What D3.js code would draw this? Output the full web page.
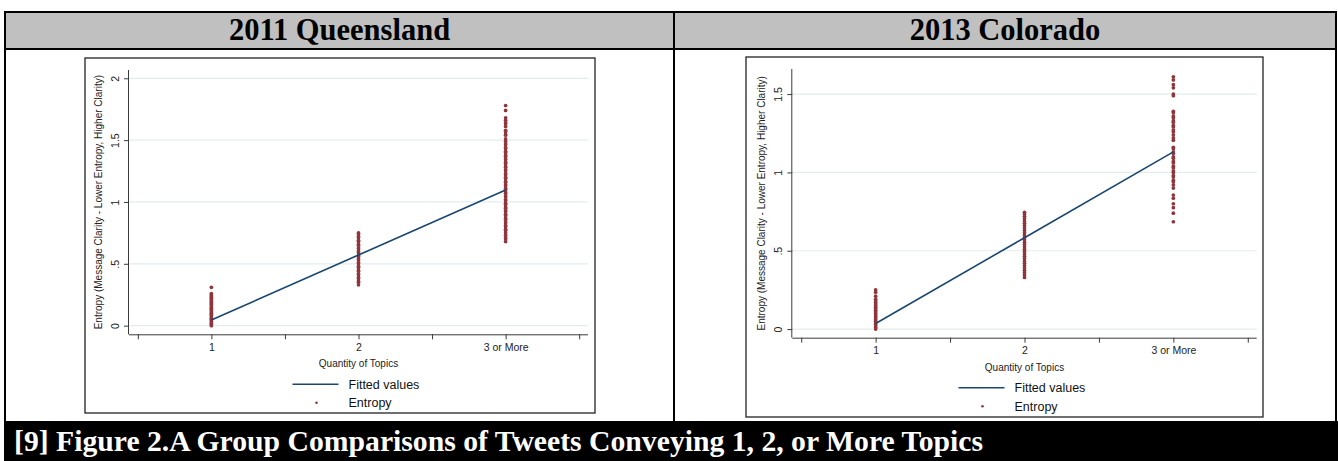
<!DOCTYPE html>
<html>
<head>
<meta charset="utf-8">
<script src="https://cdn.jsdelivr.net/npm/d3@7"></script>
<style>
  html, body { margin: 0; padding: 0; background: #fff; }
  svg { display: block; }
</style>
</head>
<body>
<svg id="fig" width="1338" height="461"></svg>
<script>
// Categories on the x axis (1, 2, 3 or more topics)
const categories = [1, 2, 3];
const xTickValues = [0.5, 1, 1.5, 2, 2.5, 3, 3.5];
const xTickLabels = { 1: "1", 2: "2", 3: "3 or More" };

// 2011 Queensland: entropy per tweet, grouped by topic count
const qldEntropy1 = [0.00, 0.01, 0.02, 0.03, 0.04, 0.05, 0.06, 0.07, 0.08, 0.09, 0.10, 0.11, 0.12, 0.13,
  0.14, 0.15, 0.16, 0.17, 0.18, 0.19, 0.20, 0.21, 0.22, 0.23, 0.24, 0.25, 0.26, 0.31];
const qldEntropy2 = [0.33, 0.35, 0.36, 0.38, 0.39, 0.41, 0.42, 0.44, 0.45, 0.47, 0.48, 0.50, 0.51, 0.53,
  0.54, 0.56, 0.57, 0.59, 0.60, 0.62, 0.63, 0.65, 0.66, 0.68, 0.69, 0.71, 0.72, 0.74, 0.75];
const qldEntropy3 = [1.78, 1.74, 1.68, 1.66, 1.64, 1.63, 1.61, 1.58, 1.57, 1.55, 1.54, 1.51, 1.49, 1.47,
  1.46, 1.44, 1.43, 1.41, 1.40, 1.38, 1.37, 1.35, 1.34, 1.32, 1.31, 1.29, 1.28, 1.26, 1.25, 1.23, 1.22,
  1.20, 1.19, 1.17, 1.16, 1.14, 1.13, 1.11, 1.10, 1.08, 1.07, 1.05, 1.04, 1.02, 1.01, 0.99, 0.98, 0.96,
  0.95, 0.93, 0.92, 0.90, 0.89, 0.87, 0.86, 0.84, 0.83, 0.81, 0.80, 0.78, 0.77, 0.75, 0.73, 0.71, 0.70, 0.68];
const qldFitted = [0.046, 0.571, 1.096];
const qldYTicks = [0, 0.5, 1, 1.5, 2];

// 2013 Colorado: entropy per tweet, grouped by topic count
const colEntropy1 = [0.00, 0.01, 0.02, 0.03, 0.04, 0.05, 0.06, 0.07, 0.08, 0.09, 0.10, 0.11, 0.12, 0.13,
  0.14, 0.15, 0.16, 0.17, 0.18, 0.19, 0.21, 0.235, 0.25];
const colEntropy2 = [0.33, 0.345, 0.36, 0.375, 0.39, 0.405, 0.42, 0.435, 0.45, 0.465, 0.48, 0.495, 0.51,
  0.525, 0.54, 0.555, 0.57, 0.585, 0.60, 0.615, 0.63, 0.645, 0.66, 0.675, 0.69, 0.705, 0.72, 0.735, 0.745];
const colEntropy3 = [1.61, 1.59, 1.56, 1.54, 1.50, 1.49, 1.39, 1.38, 1.36, 1.35, 1.33, 1.32, 1.30, 1.29,
  1.27, 1.26, 1.24, 1.22, 1.205, 1.16, 1.15, 1.13, 1.12, 1.10, 1.09, 1.07, 1.06, 1.04, 1.03, 1.01, 1.00,
  0.98, 0.97, 0.95, 0.94, 0.92, 0.90, 0.855, 0.835, 0.80, 0.775, 0.74, 0.685];
const colFitted = [0.036, 0.583, 1.131];
const colYTicks = [0, 0.5, 1, 1.5];

const titles = ["2011 Queensland", "2013 Colorado"];
const caption = "[9] Figure 2.A Group Comparisons of Tweets Conveying 1, 2, or More Topics";
const xTitle = "Quantity of Topics";
const yTitle = "Entropy (Message Clarity - Lower Entropy, Higher Clarity)";
const legendLabels = ["Fitted values", "Entropy"];

const NAVY = "#1a476f";
const MAROON = "#90353b";
const GRID = "#e2ecee";
const AXIS = "#3a3a3a";
const SANS = "'Liberation Sans', Arial, Helvetica, sans-serif";
const SERIF = "'Liberation Serif', 'Times New Roman', Times, serif";

const svg = d3.select("#fig");
svg.append("rect").attr("width", 1338).attr("height", 461).attr("fill", "#fff");

// ---- table frame: header cells, borders and caption band ----
const cells = [{ x0: 5, x1: 674 }, { x0: 674, x1: 1336 }];
cells.forEach((c, i) => {
  svg.append("rect")
    .attr("x", c.x0).attr("y", 12).attr("width", c.x1 - c.x0).attr("height", 37)
    .attr("fill", "#c0c0c0").attr("stroke", "#000").attr("stroke-width", 2);
  svg.append("text")
    .attr("x", (c.x0 + c.x1) / 2).attr("y", 40)
    .attr("text-anchor", "middle")
    .attr("font-family", SERIF).attr("font-weight", "bold").attr("font-size", 30.5)
    .attr("fill", "#000")
    .text(titles[i]);
});
[5, 674, 1336].forEach(x => {
  svg.append("line").attr("x1", x).attr("x2", x).attr("y1", 12).attr("y2", 422)
    .attr("stroke", "#000").attr("stroke-width", 2);
});
svg.append("rect").attr("x", 4).attr("y", 421).attr("width", 1334).attr("height", 40).attr("fill", "#000");
svg.append("text")
  .attr("x", 14).attr("y", 451)
  .attr("font-family", SERIF).attr("font-weight", "bold").attr("font-size", 29.7)
  .attr("fill", "#fff")
  .text(caption);

// ---- one Stata-style scatter + fitted line panel ----
function panel(opt) {
  const g = svg.append("g");
  // image box
  g.append("rect")
    .attr("x", opt.box[0]).attr("y", opt.box[1]).attr("width", opt.box[2]).attr("height", opt.box[3])
    .attr("fill", "#fff").attr("stroke", "#222").attr("stroke-width", 1.3);

  const x = d3.scaleLinear().domain([0.44, 3.56]).range(opt.xRange);
  const y = d3.scaleLinear().domain(opt.yDomain).range(opt.yRange);
  const axisY = opt.yRange[0];
  const axisX = opt.xRange[0];

  // gridlines
  g.selectAll(".grid").data(opt.yTicks).join("line")
    .attr("x1", axisX).attr("x2", opt.xRange[1])
    .attr("y1", d => y(d)).attr("y2", d => y(d))
    .attr("stroke", GRID).attr("stroke-width", 1.2);

  // y axis
  const yAxis = d3.axisLeft(y).tickValues(opt.yTicks).tickSize(5).tickPadding(4)
    .tickFormat(d => d === 0 ? "0" : (d < 1 ? d3.format(".1f")(d).replace(/^0/, "") : String(d)));
  const ya = g.append("g").attr("transform", `translate(${axisX},0)`).call(yAxis);
  ya.select(".domain").attr("stroke", AXIS).attr("d", `M-0.5,${opt.yRange[1]}V${axisY}`);
  ya.selectAll(".tick line").attr("stroke", AXIS);
  ya.selectAll(".tick text")
    .attr("font-family", SANS).attr("font-size", 10.5).attr("fill", "#222")
    .attr("transform", "rotate(-90)")
    .attr("x", 0).attr("y", -10)
    .attr("dy", "0")
    .attr("text-anchor", "middle");

  // x axis
  const xAxis = d3.axisBottom(x).tickValues(xTickValues).tickSize(5).tickPadding(4)
    .tickFormat(d => xTickLabels[d] || "");
  const xa = g.append("g").attr("transform", `translate(0,${axisY})`).call(xAxis);
  xa.select(".domain").attr("stroke", AXIS).attr("d", `M${axisX},0.5H${opt.xRange[1]}`);
  xa.selectAll(".tick line").attr("stroke", AXIS);
  xa.selectAll(".tick text")
    .attr("font-family", SANS).attr("font-size", 10.5).attr("fill", "#222");

  // axis titles
  const midX = (opt.xRange[0] + opt.xRange[1]) / 2;
  const midY = (opt.yRange[0] + opt.yRange[1]) / 2;
  g.append("text")
    .attr("transform", `translate(${axisX - 27},${midY}) rotate(-90)`)
    .attr("text-anchor", "middle")
    .attr("font-family", SANS).attr("font-size", 10).attr("fill", "#222")
    .text(yTitle);
  g.append("text")
    .attr("x", midX).attr("y", axisY + 33)
    .attr("text-anchor", "middle")
    .attr("font-family", SANS).attr("font-size", 10).attr("fill", "#222")
    .text(xTitle);

  // entropy points
  const pts = [];
  opt.entropy.forEach((arr, i) => arr.forEach(v => pts.push({ c: categories[i], v })));
  g.selectAll(".pt").data(pts).join("circle")
    .attr("cx", d => x(d.c)).attr("cy", d => y(d.v)).attr("r", 1.85)
    .attr("fill", MAROON);

  // fitted line
  const line = d3.line().x((d, i) => x(categories[i])).y(d => y(d));
  g.append("path").attr("d", line(opt.fitted))
    .attr("fill", "none").attr("stroke", NAVY).attr("stroke-width", 1.6);

  // legend
  const ly1 = axisY + 50, ly2 = axisY + 68.5;
  g.append("line").attr("x1", midX - 66).attr("x2", midX - 20).attr("y1", ly1).attr("y2", ly1)
    .attr("stroke", NAVY).attr("stroke-width", 1.6);
  g.append("circle").attr("cx", midX - 42).attr("cy", ly2).attr("r", 1.3).attr("fill", MAROON);
  [ly1, ly2].forEach((ly, i) => {
    g.append("text").attr("x", midX - 10).attr("y", ly).attr("dy", "0.35em")
      .attr("font-family", SANS).attr("font-size", 12.5).attr("fill", "#111")
      .text(legendLabels[i]);
  });
}

panel({
  box: [85, 58, 510, 355],
  xRange: [129, 588],
  yDomain: [-0.07, 2.067],
  yRange: [334.3, 70],
  yTicks: qldYTicks,
  entropy: [qldEntropy1, qldEntropy2, qldEntropy3],
  fitted: qldFitted
});

panel({
  box: [746, 57, 517, 360],
  xRange: [792.3, 1256.7],
  yDomain: [-0.055, 1.66],
  yRange: [337.7, 69],
  yTicks: colYTicks,
  entropy: [colEntropy1, colEntropy2, colEntropy3],
  fitted: colFitted
});
</script>
</body>
</html>
